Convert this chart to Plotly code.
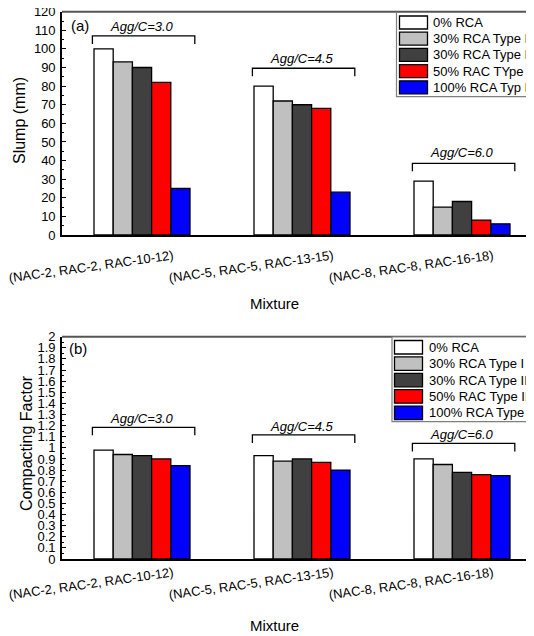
import plotly.graph_objects as go

# ---------------- data ----------------
mixtures = ["(NAC-2, RAC-2, RAC-10-12)", "(NAC-5, RAC-5, RAC-13-15)", "(NAC-8, RAC-8, RAC-16-18)"]
agg_ratios = ["Agg/C=3.0", "Agg/C=4.5", "Agg/C=6.0"]

series_top = ["0% RCA", "30% RCA Type I", "30% RCA Type II", "50% RAC TYpe II", "100% RCA Typ II"]
series_bottom = ["0% RCA", "30% RCA Type I", "30% RCA Type II", "50% RAC Type II", "100% RCA Type II"]
colors = ["#ffffff", "#c0c0c0", "#404040", "#ff0000", "#0000ff"]

slump = [
    [100, 80, 29],   # 0% RCA
    [93, 72, 15],    # 30% RCA Type I
    [90, 70, 18],    # 30% RCA Type II
    [82, 68, 8],     # 50% RAC Type II
    [25, 23, 6],     # 100% RCA Type II
]
compacting = [
    [0.98, 0.93, 0.90],
    [0.94, 0.88, 0.85],
    [0.93, 0.90, 0.78],
    [0.90, 0.87, 0.76],
    [0.84, 0.80, 0.75],
]

slump_ticks = list(range(0, 121, 10))
cf_ticks = [round(i * 0.1, 1) for i in range(0, 21)]
cf_ticktext = ["0", "0.1", "0.2", "0.3", "0.4", "0.5", "0.6", "0.7", "0.8", "0.9", "1",
               "1.1", "1.2", "1.3", "1.4", "1.5", "1.6", "1.7", "1.8", "1.9", "2"]

# ---------------- layout helpers ----------------
PAGE_MARGIN = 8          # default body margin of the html page
W, H = 534 - PAGE_MARGIN, 636 - PAGE_MARGIN
FONT = "Liberation Sans, Arial, sans-serif"


def px(x):
    return (x - PAGE_MARGIN) / W


def py(y):
    return 1 - (y - PAGE_MARGIN) / H


xpos = list(range(len(mixtures)))

fig = go.Figure()
for k in range(len(series_top)):
    fig.add_trace(go.Bar(x=xpos, y=slump[k], name=series_top[k], marker_color=colors[k],
                         marker_line_color="black", marker_line_width=1.3,
                         xaxis="x", yaxis="y", showlegend=False, offsetgroup=str(k)))
for k in range(len(series_bottom)):
    fig.add_trace(go.Bar(x=xpos, y=compacting[k], name=series_bottom[k], marker_color=colors[k],
                         marker_line_color="black", marker_line_width=1.3,
                         xaxis="x2", yaxis="y2", showlegend=False, offsetgroup=str(k)))

xr = [-0.5, 2.45]
xdom = [px(62), 1.0]
common_x = dict(range=xr, domain=xdom, showticklabels=False, ticks="", showgrid=False,
                zeroline=False, showline=True, linecolor="black", linewidth=1.6)
common_y = dict(showgrid=False, zeroline=False, showline=True, linecolor="black", linewidth=1.6,
                ticks="inside", ticklen=4, tickwidth=1.2, tickcolor="black",
                tickfont=dict(family=FONT, size=13, color="black"), ticklabelstandoff=2,
                ticklabeloverflow="allow")

fig.update_layout(
    width=W, height=H,
    margin=dict(l=0, r=0, t=0, b=0, autoexpand=False),
    paper_bgcolor="white", plot_bgcolor="white",
    barmode="group", bargap=0.4, bargroupgap=0,
    showlegend=False,
    font=dict(family=FONT, color="black"),
    xaxis=dict(**common_x, anchor="y"),
    xaxis2=dict(**common_x, anchor="y2"),
    yaxis=dict(**common_y, domain=[py(235), py(11.7)], range=[0, 120], anchor="x",
               tickvals=slump_ticks, ticktext=[str(t) for t in slump_ticks],
               minor=dict(dtick=5, ticks="inside", ticklen=2.5, tickcolor="black", tickwidth=1)),
    yaxis2=dict(**common_y, domain=[py(559), py(336.7)], range=[0, 2], anchor="x2",
                tickvals=cf_ticks, ticktext=cf_ticktext,
                minor=dict(dtick=0.05, ticks="inside", ticklen=2, tickcolor="black", tickwidth=1)),
)

shapes = []
annotations = []

# top border lines
for ytop in (11.7, 336.7):
    shapes.append(dict(type="line", xref="paper", yref="paper", x0=px(62), x1=1.02,
                       y0=py(ytop), y1=py(ytop), line=dict(color="#555555", width=2)))

# brackets + Agg/C labels
panels = [
    dict(xa="x", ya="y", levels=[107, 89.6, 38.5], drop=4.3, text_y=[111.8, 95.0, 44.2]),
    dict(xa="x2", ya="y2", levels=[1.185, 1.116, 1.04], drop=0.072, text_y=[1.26, 1.19, 1.12]),
]
for p in panels:
    for i in xpos:
        lv = p["levels"][i]
        x0, x1 = i - 0.31, i + 0.33
        shapes.append(dict(type="path", xref=p["xa"], yref=p["ya"],
                           path=f"M {x0} {lv - p['drop']} L {x0} {lv} L {x1} {lv} L {x1} {lv - p['drop']}",
                           line=dict(color="black", width=1.3)))
        annotations.append(dict(xref=p["xa"], yref=p["ya"], x=i + 0.0, y=p["text_y"][i],
                                text=f"<i>{agg_ratios[i]}</i>", showarrow=False,
                                font=dict(family=FONT, size=13, color="black"),
                                xanchor="center", yanchor="middle"))

# category labels (rotated)
for ycen, xa in ((266, "x"), (583, "x2")):
    for i, lab in enumerate(mixtures):
        annotations.append(dict(xref=xa, yref="paper", x=i - 0.32, y=py(ycen), text=lab,
                                showarrow=False, textangle=-8,
                                font=dict(family=FONT, size=13, color="black"),
                                xanchor="center", yanchor="middle"))

# x titles
for ycen in (303, 625):
    annotations.append(dict(xref="paper", yref="paper", x=px(274), y=py(ycen), text="Mixture",
                            showarrow=False, font=dict(family=FONT, size=15, color="black"),
                            xanchor="center", yanchor="middle"))

# y titles
annotations.append(dict(xref="paper", yref="paper", x=px(19), y=py(121), text="Slump (mm)",
                        showarrow=False, textangle=-90,
                        font=dict(family=FONT, size=16, color="black"),
                        xanchor="center", yanchor="middle"))
annotations.append(dict(xref="paper", yref="paper", x=px(26), y=py(443), text="Compacting Factor",
                        showarrow=False, textangle=-90,
                        font=dict(family=FONT, size=16, color="black"),
                        xanchor="center", yanchor="middle"))

# panel labels
annotations.append(dict(xref="paper", yref="paper", x=px(69), y=py(25), text="(a)", showarrow=False,
                        font=dict(family=FONT, size=15, color="black"), xanchor="left", yanchor="middle"))
annotations.append(dict(xref="paper", yref="paper", x=px(67), y=py(348), text="(b)", showarrow=False,
                        font=dict(family=FONT, size=15, color="black"), xanchor="left", yanchor="middle"))

# hand-drawn legends
legends = [
    dict(names=series_top, box=(396.5, 12.5, 560, 96.7), sw_x=(399.5, 427.5), y0=16.0, pitch=16.2,
         h=13.0, tx=431),
    dict(names=series_bottom, box=(392, 337, 560, 421.7), sw_x=(394.5, 422.5), y0=340.5, pitch=16.4,
         h=13.5, tx=427),
]
for lg in legends:
    bx0, by0, bx1, by1 = lg["box"]
    shapes.append(dict(type="rect", xref="paper", yref="paper", x0=px(bx0), x1=px(bx1),
                       y0=py(by1), y1=py(by0), line=dict(color="#7f7f7f", width=1.2),
                       fillcolor="white"))
    for k, nm in enumerate(lg["names"]):
        yt = lg["y0"] + lg["pitch"] * k
        shapes.append(dict(type="rect", xref="paper", yref="paper", x0=px(lg["sw_x"][0]),
                           x1=px(lg["sw_x"][1]), y0=py(yt + lg["h"]), y1=py(yt),
                           fillcolor=colors[k], line=dict(color="black", width=1.3)))
        annotations.append(dict(xref="paper", yref="paper", x=px(lg["tx"]), y=py(yt + lg["h"] / 2),
                                text=nm, showarrow=False,
                                font=dict(family=FONT, size=13, color="black"),
                                xanchor="left", yanchor="middle"))

fig.update_layout(shapes=shapes, annotations=annotations)
fig.write_html("out.html")
